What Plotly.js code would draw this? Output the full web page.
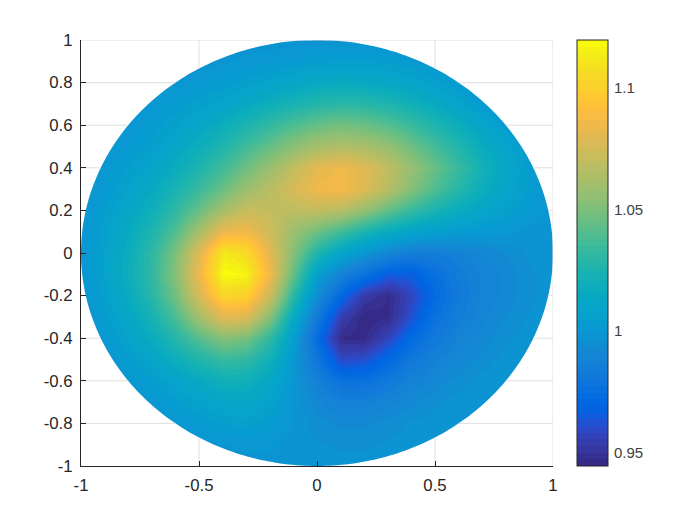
<!DOCTYPE html>
<html>
<head>
<meta charset="utf-8">
<script src="https://cdn.plot.ly/plotly-3.0.1.min.js"></script>
<style>html,body{margin:0;padding:0;background:#fff}#chart{width:700px;height:525px}</style>
</head>
<body>
<div id="chart"></div>
<script>
const gridX = [-1,-0.9,-0.8,-0.7,-0.6,-0.5,-0.4,-0.3,-0.2,-0.1,0,0.1,0.2,0.3,0.4,0.5,0.6,0.7,0.8,0.9,1];
const gridY = [1,0.9,0.8,0.7,0.6,0.5,0.4,0.3,0.2,0.1,0,-0.1,-0.2,-0.3,-0.4,-0.5,-0.6,-0.7,-0.8,-0.9,-1];
const fieldValues = [
[.998,.998,.998,.998,.998,.998,.998,.998,.998,.998,.998,.998,.998,.998,.998,.998,.998,.998,.998,.998,.998],
[.998,.998,.998,.998,.998,.998,.999,1.000,1.001,1.002,1.004,1.005,1.005,1.004,1.002,1.000,.998,.998,.998,.998,.998],
[.998,.998,.998,.998,.999,1.001,1.003,1.006,1.009,1.012,1.015,1.016,1.015,1.013,1.010,1.006,1.002,.999,.998,.998,.998],
[.998,.998,.998,1.000,1.003,1.006,1.010,1.014,1.019,1.024,1.028,1.030,1.029,1.026,1.021,1.015,1.009,1.003,.999,.998,.998],
[.998,.998,1.000,1.003,1.007,1.012,1.018,1.025,1.032,1.039,1.045,1.048,1.046,1.041,1.034,1.026,1.018,1.010,1.003,.999,.998],
[.998,.999,1.002,1.006,1.012,1.019,1.027,1.036,1.045,1.054,1.062,1.065,1.063,1.057,1.047,1.037,1.027,1.017,1.009,1.002,.998],
[.998,1.001,1.005,1.010,1.017,1.026,1.036,1.047,1.058,1.070,1.081,1.085,1.079,1.069,1.057,1.045,1.033,1.022,1.012,1.004,.998],
[.998,1.002,1.008,1.015,1.024,1.034,1.046,1.058,1.067,1.076,1.085,1.087,1.079,1.066,1.052,1.039,1.028,1.018,1.010,1.004,.998],
[.998,1.005,1.012,1.020,1.031,1.045,1.061,1.072,1.070,1.068,1.070,1.066,1.056,1.044,1.033,1.024,1.017,1.011,1.006,1.002,.998],
[.999,1.006,1.015,1.026,1.040,1.062,1.084,1.086,1.073,1.058,1.046,1.035,1.024,1.015,1.009,1.005,1.003,1.001,1.000,.998,.998],
[.999,1.008,1.018,1.031,1.050,1.079,1.112,1.106,1.080,1.052,1.026,1.010,.999,.990,.985,.985,.988,.991,.994,.997,.998],
[.999,1.008,1.019,1.032,1.052,1.084,1.119,1.116,1.085,1.045,1.006,.988,.977,.966,.966,.976,.984,.989,.992,.996,.998],
[.998,1.006,1.016,1.029,1.047,1.076,1.102,1.100,1.072,1.030,.994,.970,.953,.947,.958,.972,.983,.989,.992,.996,.998],
[.998,1.004,1.012,1.023,1.038,1.060,1.080,1.078,1.052,1.015,.982,.955,.945,.947,.962,.977,.985,.990,.994,.997,.998],
[.998,1.001,1.008,1.017,1.028,1.041,1.052,1.049,1.031,1.005,.973,.947,.946,.958,.972,.982,.989,.992,.996,.998,.998],
[.998,.999,1.004,1.010,1.018,1.026,1.033,1.031,1.020,1.001,.980,.960,.962,.972,.981,.988,.992,.995,.998,.998,.998],
[.998,.998,1.000,1.004,1.009,1.015,1.020,1.020,1.012,1.000,.987,.977,.977,.982,.988,.992,.995,.998,.999,.998,.998],
[.998,.998,.998,1.000,1.004,1.008,1.012,1.012,1.007,.999,.992,.987,.987,.990,.993,.996,.998,.999,.998,.998,.998],
[.998,.998,.998,.998,1.000,1.002,1.005,1.006,1.003,.999,.995,.993,.993,.995,.997,.998,.999,.998,.998,.998,.998],
[.998,.998,.998,.998,.998,.998,.999,1.000,1.000,.998,.997,.996,.996,.997,.998,.998,.998,.998,.998,.998,.998],
[.998,.998,.998,.998,.998,.998,.998,.998,.998,.998,.998,.998,.998,.998,.998,.998,.998,.998,.998,.998,.998]
];
const xTickVals = [-1,-0.5,0,0.5,1];
const xTickText = ["-1","-0.5","0","0.5","1"];
const yTickVals = [-1,-0.8,-0.6,-0.4,-0.2,0,0.2,0.4,0.6,0.8,1];
const yTickText = ["-1","-0.8","-0.6","-0.4","-0.2","0","0.2","0.4","0.6","0.8","1"];
const barTickVals = [0.95,1,1.05,1.1];
const barTickText = ["0.95","1","1.05","1.1"];
const colorMin = 0.9447, colorMax = 1.1195;
const parula = [
[.2081,.1663,.5292],[.2116,.1898,.5777],[.2123,.2138,.6270],[.2081,.2386,.6771],
[.1959,.2645,.7279],[.1707,.2919,.7792],[.1253,.3242,.8303],[.0591,.3598,.8683],
[.0117,.3875,.8820],[.0060,.4086,.8828],[.0165,.4266,.8786],[.0329,.4430,.8720],
[.0498,.4586,.8641],[.0629,.4737,.8554],[.0723,.4887,.8467],[.0779,.5040,.8384],
[.0793,.5200,.8312],[.0749,.5375,.8263],[.0641,.5570,.8240],[.0488,.5772,.8228],
[.0343,.5966,.8199],[.0265,.6137,.8135],[.0239,.6287,.8038],[.0231,.6418,.7913],
[.0228,.6535,.7768],[.0267,.6642,.7607],[.0384,.6743,.7436],[.0590,.6838,.7254],
[.0843,.6928,.7062],[.1133,.7015,.6859],[.1453,.7098,.6646],[.1801,.7177,.6424],
[.2178,.7250,.6193],[.2586,.7317,.5954],[.3022,.7376,.5712],[.3482,.7424,.5473],
[.3953,.7459,.5244],[.4420,.7481,.5033],[.4871,.7491,.4840],[.5300,.7491,.4661],
[.5709,.7485,.4494],[.6099,.7473,.4337],[.6473,.7456,.4188],[.6834,.7435,.4044],
[.7184,.7411,.3905],[.7525,.7384,.3768],[.7858,.7356,.3633],[.8185,.7327,.3498],
[.8507,.7299,.3360],[.8824,.7274,.3217],[.9139,.7258,.3063],[.9450,.7261,.2886],
[.9739,.7314,.2666],[.9938,.7455,.2403],[.9990,.7653,.2164],[.9955,.7861,.1967],
[.9880,.8066,.1794],[.9789,.8271,.1633],[.9697,.8481,.1475],[.9626,.8705,.1309],
[.9589,.8949,.1132],[.9598,.9218,.0948],[.9661,.9514,.0755],[.9763,.9831,.0538]];

const css = c => 'rgb(' + c.map(v => Math.round(v * 255)).join(',') + ')';
const colorscale = [];
parula.forEach((c, i) => {
  colorscale.push([i / 64, css(c)]);
  colorscale.push([(i + 1) / 64, css(c)]);
});

// white mask: outer square, then the unit circle wound the other way
const maskX = [-1.02, 1.02, 1.02, -1.02, -1.02, 0];
const maskY = [-1.02, -1.02, 1.02, 1.02, -1.02, -1];
for (let d = 270; d >= -90; d -= 1) {
  maskX.push(Math.cos(d * Math.PI / 180));
  maskY.push(Math.sin(d * Math.PI / 180));
}
maskX.push(-1.02); maskY.push(-1.02);

// grid lines only show outside the disc
const gx = [], gy = [];
yTickVals.filter(v => v > -1).forEach(v => {
  const s = Math.sqrt(Math.max(0, 1 - v * v));
  gx.push(-1, -s, null, s, 1, null); gy.push(v, v, null, v, v, null);
});
xTickVals.filter(v => v > -1).forEach(v => {
  const s = Math.sqrt(Math.max(0, 1 - v * v));
  gx.push(v, v, null, v, v, null); gy.push(-1, -s, null, s, 1, null);
});

const plotLeft = 81, plotWidth = 472.5;
const barRight = (608 - plotLeft) / plotWidth, barTickEnd = (604 - plotLeft) / plotWidth;
const barShapes = barTickVals.map(v => {
  const p = (v - colorMin) / (colorMax - colorMin);
  return {type:'line', xref:'paper', yref:'paper', x0:barTickEnd, x1:barRight, y0:p, y1:p,
          line:{color:'#262626', width:1}, layer:'above'};
});

const traces = [
  {type:'heatmap', x:gridX, y:gridY, z:fieldValues, zsmooth:'best', zmin:colorMin, zmax:colorMax,
   colorscale:colorscale, hoverinfo:'skip',
   colorbar:{x:(577.5 - plotLeft) / plotWidth, xanchor:'left', xpad:0, ypad:0, y:0.5, yanchor:'middle', len:1, lenmode:'fraction',
     thickness:31, thicknessmode:'pixels', outlinecolor:'#262626', outlinewidth:1, borderwidth:0,
     tickmode:'array', tickvals:barTickVals, ticktext:barTickText, ticks:'outside', ticklen:3,
     tickcolor:'rgba(0,0,0,0)', tickwidth:1,
     tickfont:{family:'Liberation Sans, Arial, sans-serif', size:15, color:'#404040'}}},
  {type:'scatter', mode:'none', x:maskX, y:maskY, fill:'toself', fillcolor:'#ffffff', hoverinfo:'skip', showlegend:false},
  {type:'scatter', mode:'lines', x:gx, y:gy, line:{color:'#dfdfdf', width:1}, hoverinfo:'skip', showlegend:false, cliponaxis:false}
];

const axisBase = {
  range:[-1,1], showgrid:false, zeroline:false, showline:true, linecolor:'#262626', linewidth:1,
  ticks:'inside', ticklen:5, tickcolor:'#262626', tickwidth:1, mirror:false, tickmode:'array',
  tickfont:{family:'Liberation Sans, Arial, sans-serif', size:16.8, color:'#262626'}
};
const layout = {
  width:700, height:525, paper_bgcolor:'#fff', plot_bgcolor:'#fff', showlegend:false, hovermode:false,
  margin:{l:plotLeft, r:700 - plotLeft - plotWidth, t:39.5, b:59, pad:0},
  shapes:barShapes,
  xaxis:Object.assign({}, axisBase, {tickvals:xTickVals, ticktext:xTickText, ticklabelstandoff:4}),
  yaxis:Object.assign({}, axisBase, {tickvals:yTickVals, ticktext:yTickText, ticklabelstandoff:4})
};
Plotly.newPlot('chart', traces, layout, {displayModeBar:false, staticPlot:true});
</script>
</body>
</html>
